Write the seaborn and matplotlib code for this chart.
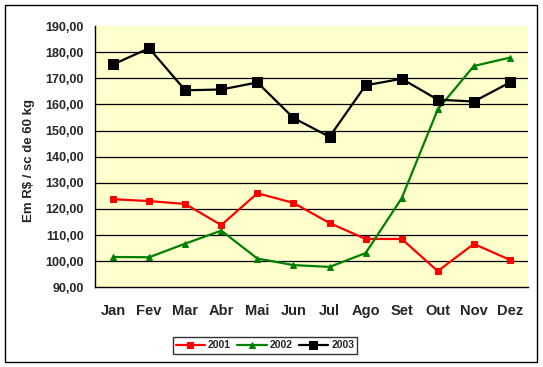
import matplotlib
matplotlib.use("Agg")
import matplotlib.pyplot as plt
import seaborn as sns
import pandas as pd
from matplotlib.patches import Rectangle

months = ["Jan", "Fev", "Mar", "Abr", "Mai", "Jun", "Jul", "Ago", "Set", "Out", "Nov", "Dez"]
s2001 = [123.7, 123.0, 121.9, 113.8, 126.0, 122.3, 114.6, 108.5, 108.5, 96.2, 106.6, 100.5]
s2002 = [101.6, 101.5, 106.7, 111.7, 101.0, 98.5, 97.8, 103.1, 124.1, 158.1, 174.7, 177.9]
s2003 = [175.3, 181.5, 165.4, 165.7, 168.4, 154.8, 147.6, 167.3, 169.8, 161.8, 161.1, 168.4]
years = ["2001", "2002", "2003"]
ylabel = "Em R$ / sc de 60 kg"

rows = []
for y, vals in zip(years, [s2001, s2002, s2003]):
    for m, v in zip(months, vals):
        rows.append({"Mes": m, "Valor": v, "Ano": y})
df = pd.DataFrame(rows)

sns.set_style("white")
plt.rcParams["font.family"] = ["Liberation Sans", "DejaVu Sans"]
plt.rcParams["font.weight"] = "bold"

fig = plt.figure(figsize=(5.43, 3.67), dpi=100)
fig.patch.set_facecolor("white")
fig.add_artist(Rectangle((5 / 543, 1 - 362 / 367), 532 / 543, 357 / 367,
                         transform=fig.transFigure, fill=False, edgecolor="black", lw=1))

ax = fig.add_axes([95 / 543, 1 - 287.3 / 367, 433 / 543, 261.3 / 367])
ax.set_facecolor("#FFFFCC")

palette = {"2001": "#FF0000", "2002": "#008000", "2003": "#000000"}
markers = {"2001": "s", "2002": "^", "2003": "s"}
sizes_m = {"2001": 5, "2002": 5, "2003": 7}

for y in years:
    sub = df[df["Ano"] == y]
    sns.lineplot(data=sub, x="Mes", y="Valor", color=palette[y], marker=markers[y],
                 markersize=sizes_m[y], markeredgecolor=palette[y], linewidth=1.6,
                 ax=ax, label=y, sort=False, zorder=3)

ax.set_ylim(90, 190)
ax.set_xlim(-0.5, 11.5)
ax.set_yticks(range(90, 191, 10))
ax.set_yticklabels([f"{v},00" for v in range(90, 191, 10)])
for v in range(100, 190, 10):
    ax.axhline(v, color="black", lw=0.9, zorder=1)

ax.set_xticks(range(12))
ax.set_xticklabels(months)
ax.set_xticks([i - 0.5 for i in range(13)], minor=True)
ax.tick_params(axis="x", which="major", length=0, pad=12, labelsize=10.5)
ax.tick_params(axis="x", which="minor", length=4, width=1, color="black", direction="out")
ax.tick_params(axis="y", which="major", length=4, width=1, color="black", direction="out",
               pad=4, labelsize=9)
for lab in ax.get_xticklabels() + ax.get_yticklabels():
    lab.set_fontweight("bold")

for s in ["top", "right"]:
    ax.spines[s].set_visible(False)
for s in ["left", "bottom"]:
    ax.spines[s].set_color("black")
    ax.spines[s].set_linewidth(1)

ax.set_xlabel("")
ax.set_ylabel("")
fig.text(29 / 543, 1 - 160 / 367, ylabel, rotation=90, ha="center", va="center",
         fontsize=9.5, fontweight="bold")

leg = ax.legend(loc="center", bbox_to_anchor=(265 / 543, 1 - 345.5 / 367),
                bbox_transform=fig.transFigure, ncol=3, frameon=True, fancybox=False,
                prop={"size": 7.5, "weight": "bold"}, handlelength=2.8, handletextpad=0.3,
                columnspacing=0.6, borderpad=0.3, markerscale=0.8)
leg.get_frame().set_edgecolor("black")
leg.get_frame().set_linewidth(1)

fig.savefig("out.png", dpi=100)
